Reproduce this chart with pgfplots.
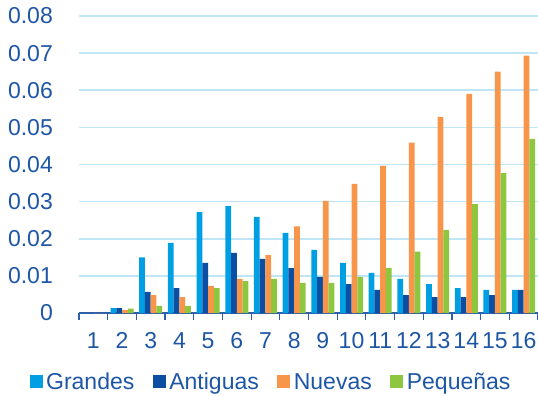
\documentclass[border=0pt]{standalone}
\usepackage{fontspec}
\setmainfont{Liberation Sans}
\usepackage{pgfplots}
\pgfplotsset{compat=1.18}
\definecolor{cGr}{HTML}{009FE3}
\definecolor{cAn}{HTML}{0B4EA2}
\definecolor{cNu}{HTML}{F7964A}
\definecolor{cPe}{HTML}{8DC63F}
\definecolor{cTxt}{HTML}{1E56A6}
\definecolor{cAx}{HTML}{2D5FAA}
\definecolor{cGrid}{HTML}{BFE5F7}
\begin{document}
\begin{tikzpicture}
\begin{axis}[
  name=ax,
  scale only axis,
  width=459pt, height=297pt,
  xmin=0.5, xmax=16.5, ymin=0, ymax=0.08,
  ybar=0pt, bar width=0.2,
  font=\fontsize{23}{28}\selectfont,
  /pgf/number format/assume math mode=true,
  scaled y ticks=false,
  axis lines*=left,
  y axis line style={draw=none},
  x axis line style={draw=cAx, line width=1.5pt, -},
  ytick={0,0.01,0.02,0.03,0.04,0.05,0.06,0.07,0.08},
  yticklabels={0,0.01,0.02,0.03,0.04,0.05,0.06,0.07,0.08},
  ytick style={draw=none},
  xtick={0.5,1.5,...,16.5},
  xticklabels={1,2,3,4,5,6,7,8,9,10,11,12,13,14,15,16},
  x tick label as interval,
  tick align=outside,
  major tick length=7pt,
  xtick style={draw=cAx, line width=1.2pt},
  ymajorgrids,
  grid style={draw=cGrid, line width=1.6pt},
  tick label style={text=cTxt, inner sep=0pt, font=\fontsize{23}{28}\selectfont},
  yticklabel style={xshift=-19pt},
  xticklabel style={yshift=-12pt},
  legend style={at={(0.42,-0.232)}, anchor=center, draw=none, fill=none,
    legend columns=4, text=cTxt, font=\fontsize{23}{28}\selectfont,
    /tikz/every even column/.append style={column sep=15pt},
    nodes={inner xsep=3.5pt, inner ysep=0pt}},
  legend image code/.code={\fill[#1] (0pt,-6.5pt) rectangle (13pt,6.5pt);},
]
\addplot[fill=cGr, draw=none] coordinates {(1,0) (2,0.0013) (3,0.0150) (4,0.0189) (5,0.0272) (6,0.0288) (7,0.0259) (8,0.0216) (9,0.0170) (10,0.0135) (11,0.0108) (12,0.0092) (13,0.0078) (14,0.0067) (15,0.0062) (16,0.0062)};
\addplot[fill=cAn, draw=none] coordinates {(1,0) (2,0.0013) (3,0.0057) (4,0.0067) (5,0.0135) (6,0.0162) (7,0.0146) (8,0.0121) (9,0.0097) (10,0.0078) (11,0.0062) (12,0.0048) (13,0.0043) (14,0.0043) (15,0.0048) (16,0.0062)};
\addplot[fill=cNu, draw=none] coordinates {(1,0) (2,0.0008) (3,0.0048) (4,0.0043) (5,0.0073) (6,0.0092) (7,0.0156) (8,0.0233) (9,0.0302) (10,0.0348) (11,0.0396) (12,0.0459) (13,0.0528) (14,0.0590) (15,0.0650) (16,0.0693)};
\addplot[fill=cPe, draw=none] coordinates {(1,0) (2,0.0012) (3,0.0019) (4,0.0019) (5,0.0067) (6,0.0086) (7,0.0092) (8,0.0081) (9,0.0081) (10,0.0097) (11,0.0121) (12,0.0165) (13,0.0224) (14,0.0293) (15,0.0377) (16,0.0469)};
\legend{Grandes,Antiguas,Nuevas,Pequeñas}
\end{axis}
\pgfresetboundingbox
\path ([shift={(-79pt,-83pt)}]ax.south west) rectangle ([shift={(0pt,16pt)}]ax.north east);
\end{tikzpicture}
\end{document}
